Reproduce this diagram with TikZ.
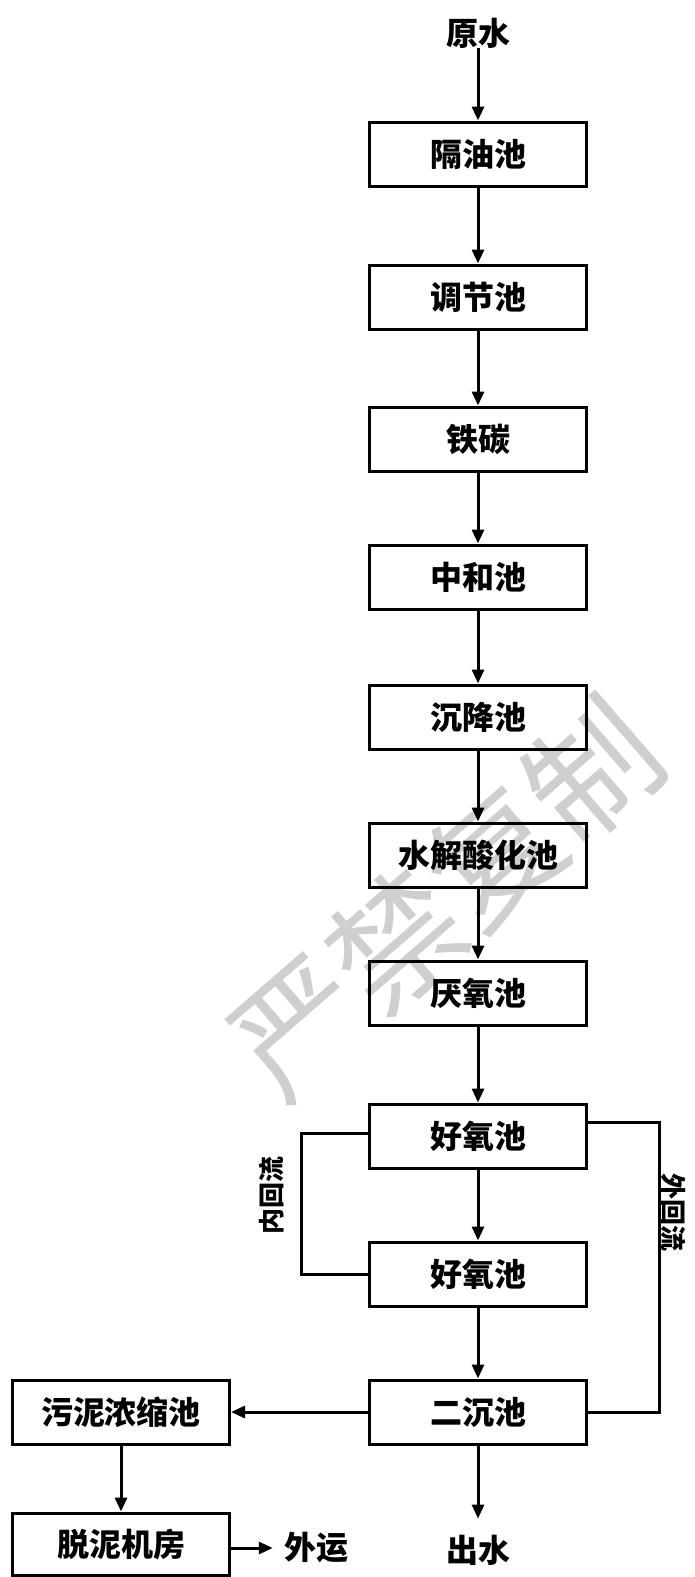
\documentclass[tikz,border=0pt]{standalone}
\usepackage{fontspec}
\setmainfont{Noto Sans CJK SC}
\usetikzlibrary{arrows.meta}
\begin{document}
\begin{tikzpicture}[x=1pt,y=-1pt,
  box/.style={draw, line width=3pt, minimum width=217pt, minimum height=64pt, inner sep=0pt, font=\fontsize{32}{34}\selectfont\bfseries},
  lbl/.style={font=\fontsize{32}{34}\selectfont\bfseries, inner sep=0pt},
  side/.style={font=\fontsize{26}{28}\selectfont\bfseries, inner sep=0pt},
  arr/.style={line width=3pt, -{Triangle[length=14pt,width=12pt]}},
  ln/.style={line width=3pt}]
\useasboundingbox (0,0) rectangle (695,1577);
% watermark
\node[rotate=41, text=black!19, font=\fontsize{130}{130}\selectfont, inner sep=0pt] (wm) at (445,898) {严禁复制};
% main column
\node[lbl] (ys) at (478,33) {原水};
\node[box] (b1) at (478,154) {隔油池};
\node[box] (b2) at (478,297) {调节池};
\node[box] (b3) at (478,439) {铁碳};
\node[box] (b4) at (478,577) {中和池};
\node[box] (b5) at (478,717) {沉降池};
\node[box] (b6) at (478,855) {水解酸化池};
\node[box] (b7) at (478,993) {厌氧池};
\node[box] (b8) at (478,1136) {好氧池};
\node[box] (b9) at (478,1274) {好氧池};
\node[box] (b10) at (478,1412) {二沉池};
\node[lbl] (cs) at (478,1550) {出水};
% sludge line
\node[box] (wn) at (121,1412) {污泥浓缩池};
\node[box, minimum height=62pt] (tn) at (121,1544) {脱泥机房};
\node[lbl] (wy) at (316,1548) {外运};
% arrows
\draw[arr] (ys) -- (b1);
\draw[arr] (b1) -- (b2);
\draw[arr] (b2) -- (b3);
\draw[arr] (b3) -- (b4);
\draw[arr] (b4) -- (b5);
\draw[arr] (b5) -- (b6);
\draw[arr] (b6) -- (b7);
\draw[arr] (b7) -- (b8);
\draw[arr] (b8) -- (b9);
\draw[arr] (b9) -- (b10);
\draw[arr, shorten >=16pt] (b10) -- (cs);
\draw[arr] (b10.west) -- (wn.east);
\draw[arr] (wn) -- (tn);
\draw[arr, shorten >=11pt] (tn.east |- wy.west) -- (wy.west);
% internal recycle
\draw[ln] ([yshift=3pt]b8.west) -- ++(-67,0) coordinate (ic) |- (b9.west);
\node[side, rotate=90] (nhl) at (272,1195) {内回流};
% external recycle
\draw[ln] ([yshift=14pt]b8.east) -- ++(71,0) coordinate (oc) |- (b10.east);
\node[side, rotate=-90] (whl) at (673,1212) {外回流};
\end{tikzpicture}
\end{document}
